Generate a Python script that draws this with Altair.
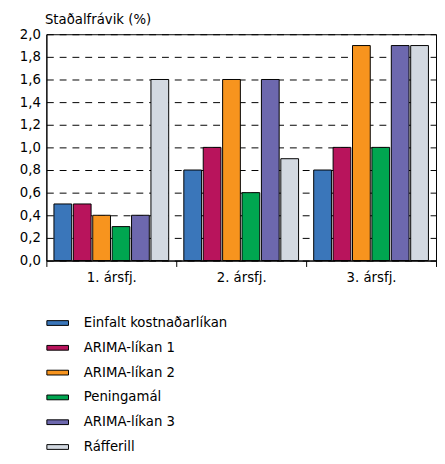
import altair as alt
import pandas as pd

quarters = ["1. ársfj.", "2. ársfj.", "3. ársfj."]
series = ["Einfalt kostnaðarlíkan", "ARIMA-líkan 1", "ARIMA-líkan 2",
          "Peningamál", "ARIMA-líkan 3", "Ráfferill"]
colors = ["#3A76BA", "#B8145C", "#F7941E", "#00A650", "#6D68AE", "#D3D9E1"]
values = {
    "Einfalt kostnaðarlíkan": [0.5, 0.8, 0.8],
    "ARIMA-líkan 1": [0.5, 1.0, 1.0],
    "ARIMA-líkan 2": [0.4, 1.6, 1.9],
    "Peningamál": [0.3, 0.6, 1.0],
    "ARIMA-líkan 3": [0.4, 1.6, 1.9],
    "Ráfferill": [1.6, 0.9, 1.9],
}
y_ticks = [0.0, 0.2, 0.4, 0.6, 0.8, 1.0, 1.2, 1.4, 1.6, 1.8, 2.0]

rows = []
for s in series:
    for q, v in zip(quarters, values[s]):
        rows.append({"quarter": q, "series": s, "value": v})
df = pd.DataFrame(rows)

FONT = "DejaVu Sans"
FS = 13.5

chart = alt.Chart(df).mark_bar(stroke="black", strokeWidth=1).encode(
    x=alt.X("quarter:N", sort=quarters,
            scale=alt.Scale(paddingInner=0, paddingOuter=0),
            axis=alt.Axis(title=None, labelAngle=0, tickBand="extent",
                          tickSize=6, tickColor="black", domainColor="black",
                          labelFont=FONT, labelFontSize=FS, labelColor="black",
                          labelPadding=4)),
    xOffset=alt.XOffset("series:N", sort=series,
                        scale=alt.Scale(paddingInner=0.085, paddingOuter=0.39)),
    y=alt.Y("value:Q",
            scale=alt.Scale(domain=[0, 2]),
            axis=alt.Axis(values=y_ticks, labelExpr="replace(format(datum.value, '.1f'), '.', ',')",
                          title="Staðalfrávik (%)", titleAngle=0, titleAlign="left",
                          titleBaseline="bottom", titleX=-2, titleY=-8,
                          titleFont=FONT, titleFontSize=FS, titleFontWeight="normal",
                          titleColor="black",
                          labelFont=FONT, labelFontSize=FS, labelColor="black",
                          tickSize=0, labelPadding=6, domainColor="black",
                          grid=True, gridColor="black", gridDash=[7, 6],
                          gridWidth=1)),
    color=alt.Color("series:N", sort=series,
                    scale=alt.Scale(domain=series, range=colors),
                    legend=alt.Legend(title=None, orient="none", legendX=0, legendY=282,
                                      direction="vertical",
                                      symbolType="M-1,-0.22 L1,-0.22 L1,0.22 L-1,0.22 Z",
                                      symbolSize=484, symbolStrokeColor="black",
                                      symbolStrokeWidth=1, symbolOpacity=1,
                                      labelFont=FONT, labelFontSize=FS, labelColor="black",
                                      labelOffset=15, rowPadding=7.2, padding=0)),
).properties(
    width=396, height=230,
    padding={"left": 11, "top": 1, "right": 0, "bottom": 0}
).configure_view(
    stroke="black", strokeWidth=1
)

chart.save("out.html", embed_options={"renderer": "svg", "actions": False})
